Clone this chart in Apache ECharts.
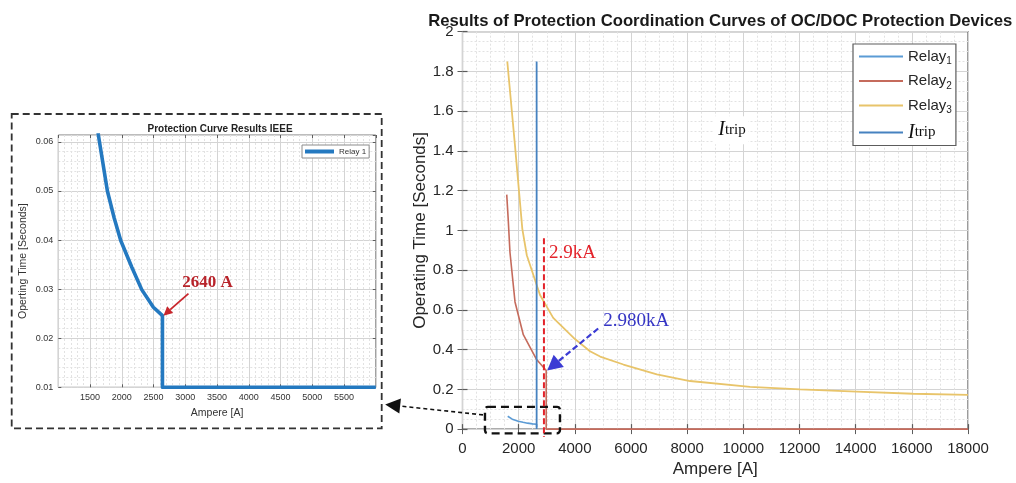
<!DOCTYPE html>
<html>
<head>
<meta charset="utf-8">
<title>Protection Coordination Curves</title>
<script src="https://cdn.jsdelivr.net/npm/echarts@6/dist/echarts.min.js"></script>
<style>
  html, body { margin: 0; padding: 0; background: #ffffff; }
  #chart { width: 1016px; height: 483px; }
</style>
</head>
<body>
<div id="chart"></div>
<script>
// ---- data: operating time [s] against fault current [A] ----
// Relay 1 (IEEE characteristic, shown zoomed in the inset)
const relay1Current = [1610, 1631, 1773, 1880, 1983, 2156, 2314, 2497, 2640, 2640, 6000];
const relay1Time    = [0.0645, 0.0614, 0.0500, 0.0445, 0.0399, 0.0345, 0.0299, 0.0263, 0.0246, 0.0100, 0.0100];

// Relay 2
const relay2Current = [1575, 1630, 1690, 1870, 2165, 2640, 2980, 2980, 18000];
const relay2Time    = [1.18, 1.05, 0.89, 0.64, 0.475, 0.35, 0.295, 0, 0];

// Relay 3
const relay3Current = [1595, 1870, 2130, 2290, 2760, 3230, 3950, 4540, 4900, 5730, 6920, 8100, 10240, 12020, 14040, 16050, 18000];
const relay3Time    = [1.85, 1.425, 1.008, 0.875, 0.675, 0.56, 0.46, 0.392, 0.365, 0.325, 0.275, 0.242, 0.213, 0.2, 0.189, 0.178, 0.172];

// I_trip vertical marker
const tripCurrent = [2640, 2640];
const tripTime    = [0, 1.85];

// annotated currents
const relay1CornerCurrent = 2640;   // "2640 A"
const pickupCurrent = 2900;         // "2.9kA" dashed marker
const pickupMarkerTop = 0.96;
const relay2DropCurrent = 2980;     // "2.980kA"

// region of the main plot that the inset enlarges
const zoomWindowCurrent = [800, 3470];
const zoomWindowTime = [-0.0215, 0.112];

// axis ranges and tick steps
const insetX = { min: 1000, max: 6000, step: 500 };
const insetY = { min: 0.01, max: 0.0614, step: 0.01 };
const mainX = { min: 0, max: 18000, step: 2000 };
const mainY = { min: 0, max: 2, step: 0.2 };

// ---- styling ----
const SANS = 'Liberation Sans, Arial, Helvetica, sans-serif';
const SERIF = 'Liberation Serif, Times New Roman, serif';
const INK = '#262626';
const FRAME = '#5c5c5c';
const COLORS = {
  relay1: '#5b9bd5',
  relay2: '#c56b5c',
  relay3: '#e8c46a',
  trip: '#4682c0',
  inset: '#2479c0'
};

const zip = (xs, ys) => xs.map((x, i) => [x, ys[i]]);

const insetGrid = { left: 58.3, top: 135, width: 317.5, height: 252.3 };
const mainGrid = { left: 462.5, top: 31.7, width: 505.5, height: 400 };

function gridLines(minorCount) {
  return {
    splitLine: { show: true, lineStyle: { color: '#d4d4d4', width: 1 } },
    minorTick: { show: false, splitNumber: minorCount },
    minorSplitLine: { show: true, lineStyle: { color: '#e2e2e2', width: 1, type: [2, 2] } }
  };
}

function tickOnlyAxis(gridIndex, position, range, tickLen) {
  return {
    type: 'value', gridIndex, position,
    min: range.min, max: range.max, interval: range.step,
    axisLine: { show: false },
    axisTick: { show: true, inside: true, length: tickLen, lineStyle: { color: FRAME } },
    axisLabel: { show: false },
    splitLine: { show: false }
  };
}

const chart = echarts.init(document.getElementById('chart'), null, { renderer: 'canvas' });

chart.setOption({
  animation: false,
  backgroundColor: '#ffffff',
  title: [
    {
      text: 'Protection Curve Results IEEE',
      left: insetGrid.left + insetGrid.width / 2 - 2, top: 119, textAlign: 'center',
      textStyle: { fontFamily: SANS, fontWeight: 'bold', fontSize: 10, color: '#222' }
    },
    {
      text: 'Results of Protection Coordination Curves of OC/DOC Protection Devices',
      left: mainGrid.left + mainGrid.width / 2, top: 8, textAlign: 'center',
      textStyle: { fontFamily: SANS, fontWeight: 'bold', fontSize: 16.7, color: '#1a1a1a' }
    }
  ],
  grid: [
    Object.assign({ show: true, backgroundColor: '#ffffff', borderColor: '#7a7a7a', borderWidth: 1 }, insetGrid),
    Object.assign({ show: true, backgroundColor: '#ffffff', borderColor: FRAME, borderWidth: 1.2 }, mainGrid)
  ],
  legend: [
    {
      data: ['Relay 1'],
      left: 302, top: 145, orient: 'vertical',
      icon: 'rect', itemWidth: 29, itemHeight: 4,
      padding: [2, 3, 2, 3],
      backgroundColor: '#ffffff', borderColor: '#8c8c8c', borderWidth: 1,
      selectedMode: false,
      textStyle: { fontFamily: SANS, fontSize: 8, color: '#333', lineHeight: 9 }
    },
    {
      data: ['Relay1', 'Relay2', 'Relay3', 'Itrip'],
      left: 853, top: 44, orient: 'vertical',
      icon: 'rect', itemWidth: 44, itemHeight: 2, itemGap: 7,
      padding: [5, 4, 3, 6],
      backgroundColor: '#ffffff', borderColor: FRAME, borderWidth: 1.2,
      selectedMode: false,
      formatter: name => name === 'Itrip'
        ? '{i|I}{t|trip}'
        : '{r|Relay}{s|' + name.slice(5) + '}',
      textStyle: {
        rich: {
          r: { fontFamily: SANS, fontSize: 15, color: INK, lineHeight: 20 },
          s: { fontFamily: SANS, fontSize: 10, color: INK, lineHeight: 10, verticalAlign: 'bottom' },
          i: { fontFamily: SERIF, fontStyle: 'italic', fontSize: 20, color: '#111', lineHeight: 20 },
          t: { fontFamily: SERIF, fontSize: 15, color: '#111', lineHeight: 20 }
        }
      }
    }
  ],
  xAxis: [
    Object.assign({
      type: 'value', gridIndex: 0, position: 'bottom',
      min: insetX.min, max: insetX.max, interval: insetX.step,
      axisLine: { show: false },
      axisTick: { show: true, inside: true, length: 3, lineStyle: { color: FRAME } },
      axisLabel: {
        fontFamily: SANS, fontSize: 9, color: '#333', margin: 6,
        showMinLabel: false, showMaxLabel: false, formatter: v => String(v)
      },
      name: 'Ampere [A]', nameLocation: 'middle', nameGap: 20,
      nameTextStyle: { fontFamily: SANS, fontSize: 10.5, color: '#333' }
    }, gridLines(5)),
    tickOnlyAxis(0, 'top', insetX, 3),
    Object.assign({
      type: 'value', gridIndex: 1, position: 'bottom',
      min: mainX.min, max: mainX.max, interval: mainX.step,
      axisLine: { show: false },
      axisTick: { show: true, inside: true, length: 5, lineStyle: { color: FRAME, width: 1.2 } },
      axisLabel: { fontFamily: SANS, fontSize: 15, color: INK, margin: 12, formatter: v => String(v) },
      name: 'Ampere [A]', nameLocation: 'middle', nameGap: 30,
      nameTextStyle: { fontFamily: SANS, fontSize: 17, color: INK }
    }, gridLines(4)),
    tickOnlyAxis(1, 'top', mainX, 5)
  ],
  yAxis: [
    Object.assign({
      type: 'value', gridIndex: 0, position: 'left',
      min: insetY.min, max: insetY.max, interval: insetY.step,
      axisLine: { show: false },
      axisTick: { show: true, inside: true, length: 3, lineStyle: { color: FRAME } },
      axisLabel: {
        fontFamily: SANS, fontSize: 9, color: '#333', margin: 5,
        showMaxLabel: false, formatter: v => v.toFixed(2)
      },
      name: 'Operting Time [Seconds]', nameLocation: 'middle', nameGap: 30,
      nameTextStyle: { fontFamily: SANS, fontSize: 10.5, color: '#333' }
    }, gridLines(5)),
    tickOnlyAxis(0, 'right', insetY, 3),
    Object.assign({
      type: 'value', gridIndex: 1, position: 'left',
      min: mainY.min, max: mainY.max, interval: mainY.step,
      axisLine: { show: false },
      axisTick: { show: true, inside: true, length: 5, lineStyle: { color: FRAME, width: 1.2 } },
      axisLabel: { fontFamily: SANS, fontSize: 15, color: INK, margin: 9, formatter: v => String(+v.toFixed(1)) },
      name: 'Operating Time [Seconds]', nameLocation: 'middle', nameGap: 33,
      nameTextStyle: { fontFamily: SANS, fontSize: 17, color: INK }
    }, gridLines(4)),
    tickOnlyAxis(1, 'right', mainY, 5)
  ],
  series: [
    {
      name: 'Relay 1', type: 'line', xAxisIndex: 0, yAxisIndex: 0,
      data: zip(relay1Current, relay1Time),
      symbol: 'none', clip: true,
      lineStyle: { color: COLORS.inset, width: 3.6, join: 'round' }, itemStyle: { color: COLORS.inset }
    },
    {
      name: 'Relay1', type: 'line', xAxisIndex: 2, yAxisIndex: 2,
      // the main plot shows the curve up to the instantaneous drop
      data: zip(relay1Current, relay1Time).filter(p => p[0] <= relay1CornerCurrent),
      symbol: 'none',
      lineStyle: { color: COLORS.relay1, width: 1.6 }, itemStyle: { color: COLORS.relay1 }
    },
    {
      name: 'Relay2', type: 'line', xAxisIndex: 2, yAxisIndex: 2,
      data: zip(relay2Current, relay2Time),
      symbol: 'none',
      lineStyle: { color: COLORS.relay2, width: 1.6 }, itemStyle: { color: COLORS.relay2 }
    },
    {
      name: 'Relay3', type: 'line', xAxisIndex: 2, yAxisIndex: 2,
      data: zip(relay3Current, relay3Time),
      symbol: 'none',
      lineStyle: { color: COLORS.relay3, width: 1.8 }, itemStyle: { color: COLORS.relay3 }
    },
    {
      name: 'Itrip', type: 'line', xAxisIndex: 2, yAxisIndex: 2,
      data: zip(tripCurrent, tripTime),
      symbol: 'none',
      lineStyle: { color: COLORS.trip, width: 1.8 }, itemStyle: { color: COLORS.trip }
    }
  ]
});

// ---- annotations, anchored to data positions through the axes ----
const toInset = (x, y) => chart.convertToPixel({ seriesIndex: 0 }, [x, y]);
const toMain = (x, y) => chart.convertToPixel({ seriesIndex: 2 }, [x, y]);

function arrow(tail, tip, headLen, headHalf, color, width, dash) {
  const dx = tip[0] - tail[0], dy = tip[1] - tail[1];
  const len = Math.hypot(dx, dy), ux = dx / len, uy = dy / len;
  const base = [tip[0] - ux * headLen, tip[1] - uy * headLen];
  return [
    { type: 'line', z: 100, shape: { x1: tail[0], y1: tail[1], x2: base[0], y2: base[1] },
      style: { stroke: color, lineWidth: width, lineDash: dash || null } },
    { type: 'polygon', z: 100, shape: { points: [tip,
        [base[0] - uy * headHalf, base[1] + ux * headHalf],
        [base[0] + uy * headHalf, base[1] - ux * headHalf]] },
      style: { fill: color } }
  ];
}

const g = [];

// inset frame
const frame = { x: 11.7, y: 114, w: 370, h: 314.3 };
g.push({ type: 'rect', z: 100, shape: { x: frame.x, y: frame.y, width: frame.w, height: frame.h },
  style: { fill: 'none', stroke: '#333', lineWidth: 1.8, lineDash: [7, 4] } });

// zoom window on the main plot
const zA = toMain(zoomWindowCurrent[0], zoomWindowTime[1]);
const zB = toMain(zoomWindowCurrent[1], zoomWindowTime[0]);
g.push({ type: 'rect', z: 100, shape: { x: zA[0], y: zA[1], width: zB[0] - zA[0], height: zB[1] - zA[1], r: 3 },
  style: { fill: 'none', stroke: '#111', lineWidth: 2.4, lineDash: [8, 5] } });

// connector from the zoom window to the inset
g.push(...arrow([zA[0] - 2, zA[1] + 8], [frame.x + frame.w + 3.5, 404.5], 15, 7.5, '#111', 1.6, [4, 3]));

// pickup current marker
const pTop = toMain(pickupCurrent, pickupMarkerTop);
const pBot = toMain(pickupCurrent, 0);
g.push({ type: 'line', z: 100, shape: { x1: pTop[0], y1: pTop[1], x2: pBot[0], y2: pBot[1] + 8 },
  style: { stroke: '#e3232b', lineWidth: 2, lineDash: [6, 3] } });
g.push({ type: 'text', z: 100, x: pTop[0] + 5, y: pTop[1] + 15,
  style: { text: '2.9kA', font: '19px ' + SERIF, fill: '#e3232b', verticalAlign: 'middle' } });

// Relay 2 drop-out current
const dropIndex = relay2Current.indexOf(relay2DropCurrent);
const dTip = toMain(relay2DropCurrent, relay2Time[dropIndex]);
g.push(...arrow([dTip[0] + 52, dTip[1] - 42], [dTip[0] + 1, dTip[1]], 15, 8, '#3b3bd4', 2.2, [6, 3]));
g.push({ type: 'text', z: 100, x: dTip[0] + 57, y: dTip[1] - 49,
  style: { text: '2.980kA', font: '19px ' + SERIF, fill: '#3535c4', verticalAlign: 'middle' } });

// I_trip label in the main plot
const tLab = toMain(8930, 1.575);
g.push({ type: 'rect', z: 100, shape: { x: tLab[0], y: tLab[1], width: 35, height: 28 }, style: { fill: '#ffffff' } });
g.push({ type: 'text', z: 101, x: tLab[0] + 5, y: tLab[1] + 14,
  style: {
    text: '{i|I}{t|trip}', verticalAlign: 'middle',
    rich: {
      i: { fontFamily: SERIF, fontStyle: 'italic', fontSize: 20, fill: '#111', lineHeight: 20 },
      t: { fontFamily: SERIF, fontSize: 15, fill: '#111', lineHeight: 20 }
    }
  } });

// inset corner annotation
const cornerIndex = relay1Current.indexOf(relay1CornerCurrent);
const cTip = toInset(relay1CornerCurrent, relay1Time[cornerIndex]);
g.push(...arrow([cTip[0] + 26, cTip[1] - 22], [cTip[0] + 1, cTip[1]], 9, 4.5, '#c8262c', 1.8));
g.push({ type: 'text', z: 100, x: cTip[0] + 45, y: cTip[1] - 33,
  style: { text: '2640 A', font: 'bold 17px ' + SERIF, fill: '#b8232a', align: 'center', verticalAlign: 'middle' } });

chart.setOption({ graphic: g });
</script>
</body>
</html>
